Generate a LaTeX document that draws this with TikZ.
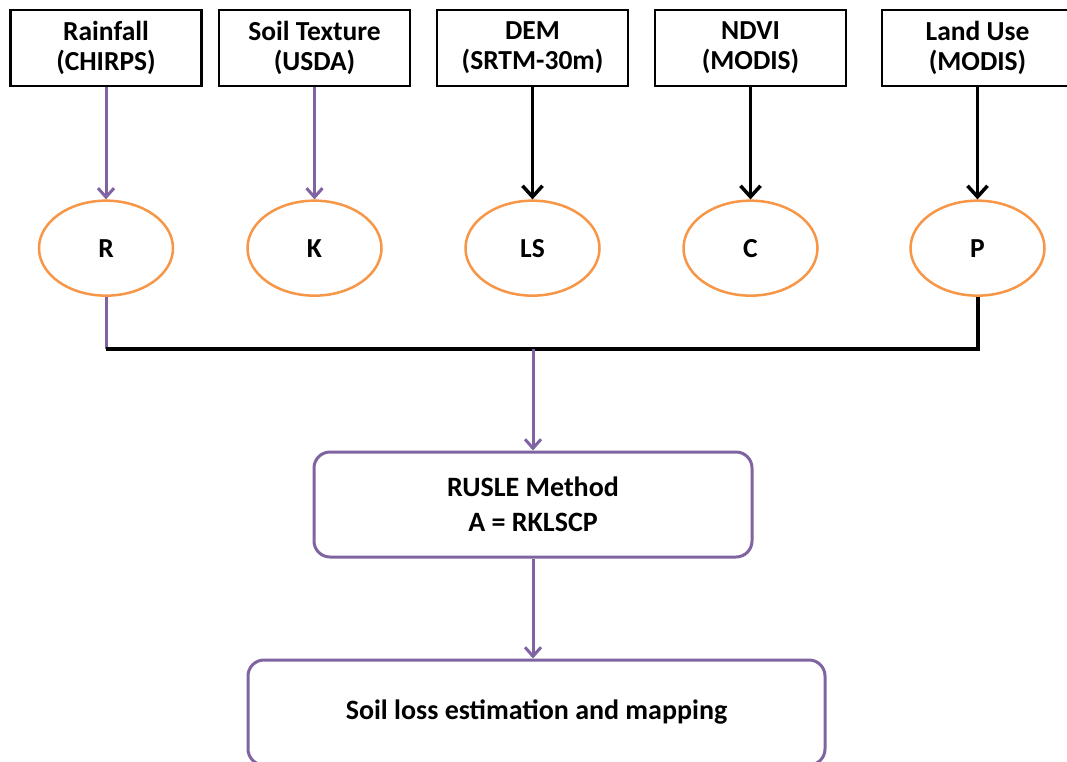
\documentclass[tikz,border=0pt]{standalone}
\usepackage{fontspec}
\setmainfont{Carlito}
\usetikzlibrary{positioning,shapes.geometric,arrows.meta}
\definecolor{rusleorange}{HTML}{F79646}
\definecolor{ruslepurple}{HTML}{8064A2}

\begin{document}
\begin{tikzpicture}[x=1pt,y=-1pt,node distance=112pt]
  \tikzset{
    source/.style={draw, line width=2.8pt, rectangle, minimum height=76pt, minimum width=191pt, align=center, font=\fontsize{27.5}{30}\selectfont\bfseries},
    factor/.style={draw=rusleorange, line width=2.5pt, ellipse, minimum height=95pt, minimum width=134pt, inner sep=0pt, font=\fontsize{27.5}{30}\selectfont\bfseries},
    process/.style={draw=ruslepurple, line width=3pt, rectangle, rounded corners=16pt, minimum height=105pt, align=center, font=\fontsize{28}{35}\selectfont\bfseries},
    purplearrow/.style={draw=ruslepurple, line width=3pt, -{Straight Barb[length=9pt,width=16pt]}},
    blackarrow/.style={line width=3.5pt, -{Straight Barb[length=11pt,width=20pt]}}
  }
  \useasboundingbox[fill=white] (0,0) rectangle (1067,761);

  \node[source] (rain) at (106,48) {Rainfall\\(CHIRPS)};
  \node[source] (soil) at (314.5,48) {Soil Texture\\(USDA)};
  \node[source] (dem) at (532.5,48) {DEM\\(SRTM-30m)};
  \node[source] (ndvi) at (750.5,48) {NDVI\\(MODIS)};
  \node[source] (landuse) at (977.5,48) {Land Use\\(MODIS)};

  \node[factor, below=of rain] (r) {R};
  \node[factor, below=of soil] (k) {K};
  \node[factor, below=of dem] (ls) {LS};
  \node[factor, below=of ndvi] (c) {C};
  \node[factor, below=of landuse] (p) {P};

  \node[process, minimum width=438pt] (rusle) at (533,504.5) {RUSLE Method\\A = RKLSCP};
  \node[process, minimum width=577pt] (soilloss) at (536.5,712.5) {Soil loss estimation and mapping};

  \draw[purplearrow] (rain) -- (r);
  \draw[purplearrow] (soil) -- (k);
  \draw[blackarrow] (dem) -- (ls);
  \draw[blackarrow] (ndvi) -- (c);
  \draw[blackarrow] (landuse) -- (p);

  % collecting line
  \coordinate (busy) at (0,349);
  \coordinate (busl) at (r.south |- busy);
  \coordinate (busr) at (p.south |- busy);
  \coordinate (busm) at (rusle.north |- busy);
  \draw[ruslepurple, line width=3pt] (r) -- (busl);
  \draw[line width=4pt] (busl) -- (busr) -- (p);
  \draw[purplearrow] (busm) -- (rusle);
  \draw[purplearrow] (rusle) -- (rusle.south |- soilloss.north);
\end{tikzpicture}
\end{document}
